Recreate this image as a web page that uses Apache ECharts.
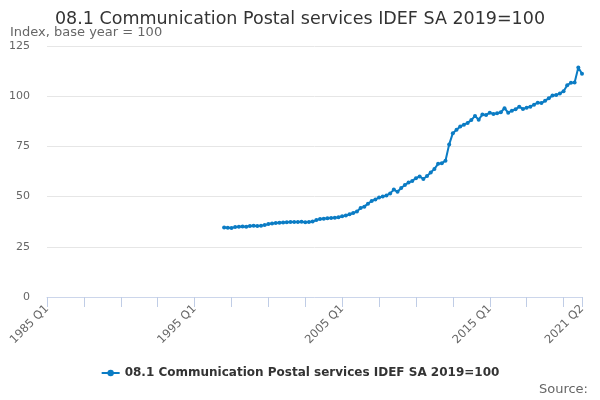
<!DOCTYPE html>
<html>
<head>
<meta charset="utf-8">
<script src="https://cdn.jsdelivr.net/npm/echarts@6/dist/echarts.min.js"></script>
<style>html,body{margin:0;padding:0;background:#fff}#c{width:600px;height:400px}</style>
</head>
<body>
<div id="c"></div>
<script>
var seriesName = '08.1 Communication Postal services IDEF SA 2019=100';
var firstYear = 1985, lastYear = 2021, lastQuarter = 2;
var dataStart = '1997 Q1';
var values = [
 34.6,34.5,34.4,34.8, 35.0,35.1,35.0,35.4, 35.5,35.4,35.5,35.8,
 36.3,36.6,36.8,37.0, 37.1,37.2,37.3,37.3, 37.4,37.5,37.2,37.3,
 37.6,38.3,38.8,39.0, 39.2,39.3,39.5,39.7, 40.2,40.6,41.2,41.8,
 42.6,44.3,45.0,46.5, 47.8,48.6,49.5,50.0, 50.6,51.6,53.5,52.4,
 54.3,55.8,57.0,57.8, 59.2,60.0,58.8,60.3, 62.0,63.8,66.3,66.6,
 67.9,76.0,81.6,83.3, 84.9,85.8,86.7,88.1, 90.2,88.3,90.9,90.6,
 91.8,91.1,91.5,92.0, 94.0,91.8,92.8,93.5, 94.8,93.6,94.3,94.8,
 95.8,96.8,96.6,97.7, 99.0,100.3,100.6,101.3, 102.5,105.5,106.7,106.8,
 114.3,111.2
];
var yTicks = [0,25,50,75,100,125];

var quarters = [];
for (var y = firstYear; y <= lastYear; y++) {
  for (var q = 1; q <= 4; q++) {
    if (y === lastYear && q > lastQuarter) break;
    quarters.push(y + ' Q' + q);
  }
}
var offset = quarters.indexOf(dataStart);
var seriesData = values.map(function (v, k) { return [quarters[offset + k], v]; });
var lastIdx = quarters.length - 1;

var chart = echarts.init(document.getElementById('c'));
chart.setOption({
  animation: false,
  textStyle: { fontFamily: 'DejaVu Sans' },
  title: {
    text: seriesName,
    left: 'center', top: 5,
    textStyle: { fontSize: 17.5, fontWeight: 'normal', color: '#333', fontFamily: 'DejaVu Sans' }
  },
  graphic: [
    { type: 'text', left: 10, top: 26, style: { text: 'Index, base year = 100', fontSize: 13, fill: '#666', fontFamily: 'DejaVu Sans' } },
    { type: 'text', right: 12, bottom: 4, style: { text: 'Source:', fontSize: 13, fill: '#666', fontFamily: 'DejaVu Sans' } }
  ],
  grid: { left: 47, right: 18, top: 46, bottom: 103 },
  legend: {
    bottom: 16, left: 'center',
    itemWidth: 18, itemHeight: 8,
    textStyle: { fontSize: 12, fontWeight: 'bold', color: '#333', fontFamily: 'DejaVu Sans' },
    data: [seriesName]
  },
  xAxis: {
    type: 'category',
    data: quarters,
    boundaryGap: false,
    axisLine: { lineStyle: { color: '#ccd6eb' } },
    axisTick: {
      length: 10, lineStyle: { color: '#c0cde6' },
      interval: function (i) { return i % 10 === 0 || i === lastIdx; }
    },
    axisLabel: {
      rotate: 45, color: '#666', fontSize: 11.5, margin: 10,
      interval: function (i) { return i % 40 === 0 || i === lastIdx; }
    },
    splitLine: { show: false }
  },
  yAxis: {
    type: 'value',
    min: yTicks[0], max: yTicks[yTicks.length - 1], interval: 25,
    axisLine: { show: false }, axisTick: { show: false },
    axisLabel: { color: '#666', fontSize: 11, margin: 17 },
    splitLine: { lineStyle: { color: '#e6e6e6' } }
  },
  series: [{
    name: seriesName,
    type: 'line',
    data: seriesData,
    color: '#0b7cc4',
    lineStyle: { width: 2 },
    symbol: 'circle', symbolSize: 4,
    showAllSymbol: true
  }]
});
</script>
</body>
</html>
